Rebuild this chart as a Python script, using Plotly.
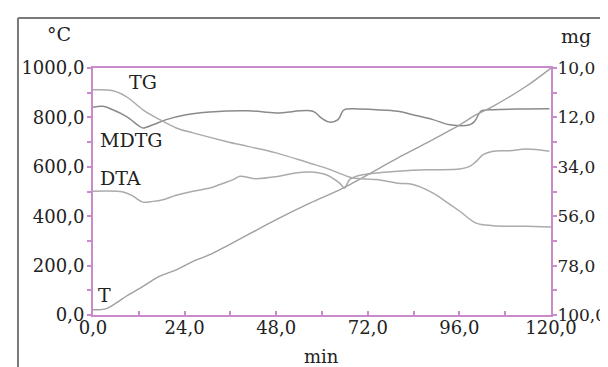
import plotly.graph_objects as go

# ---- data ----
t_T = [0, 3.5, 6.1, 8.7, 13.1, 17.5, 21.8, 26.2, 30.6, 34.9, 40.6, 48.0, 56.8, 65.5, 79.9, 87.3, 96.1, 100.4, 104.8, 113.5, 120]
v_T = [21, 26, 49, 76, 116, 157, 183, 217, 244, 278, 325, 386, 453, 514, 636, 696, 770, 811, 845, 926, 1000]

t_MDTG = [0, 2.6, 5.2, 8.7, 12.2, 13.1, 15.7, 19.2, 24.4, 30.6, 40.6, 48.0, 57.6, 59.8, 62.0, 64.2, 65.5, 66.4, 74.2, 79.9, 83.8, 89.1, 93.5, 98.7, 100.0, 101.7, 104.8, 113.5, 119.6]
v_MDTG = [841, 845, 831, 804, 764, 757, 770, 791, 811, 822, 827, 818, 825, 798, 781, 791, 827, 834, 831, 825, 811, 791, 770, 770, 784, 825, 831, 834, 835]

t_DTA = [0, 7.9, 10.5, 13.1, 15.7, 18.3, 21.8, 26.2, 30.6, 33.2, 36.7, 38.5, 42.4, 48.0, 53.0, 56.8, 61.1, 64.6, 65.9, 67.2, 69.0, 74.2, 79.9, 87.3, 96.1, 98.7, 100.4, 102.2, 104.8, 109.2, 113.5, 119.6]
v_DTA = [501, 498, 481, 457, 460, 467, 485, 501, 514, 528, 548, 562, 552, 560, 575, 579, 568, 534, 514, 548, 562, 575, 582, 588, 591, 602, 622, 649, 663, 665, 672, 663]

t_TG = [0, 5.2, 8.7, 13.1, 17.5, 21.8, 26.2, 34.9, 40.6, 48.0, 56.8, 61.1, 65.5, 68.1, 74.2, 79.9, 83.8, 89.1, 91.7, 96.1, 100.4, 104.8, 113.5, 120]
m_TG = [-0.3, 0.1, 2.7, 8.6, 13.0, 16.7, 18.9, 22.7, 24.9, 27.8, 32.4, 34.6, 37.5, 39.0, 39.7, 41.3, 41.9, 45.7, 48.6, 53.8, 59.1, 60.2, 60.5, 60.8]

x_ticks = [0, 24, 48, 72, 96, 120]
x_labels = ["0,0", "24,0", "48,0", "72,0", "96,0", "120,0"]
y_ticks = [0, 200, 400, 600, 800, 1000]
y_labels = ["0,0", "200,0", "400,0", "600,0", "800,0", "1000,0"]
y2_ticks = [-10, 12, 34, 56, 78, 100]
y2_labels = ["10,0", "12,0", "34,0", "56,0", "78,0", "100,0"]

AX = "#c98bcb"
TXT = "#222222"
FONT = "DejaVu Serif"

fig = go.Figure()
fig.add_trace(go.Scatter(x=t_TG, y=m_TG, mode="lines", yaxis="y2",
                         line=dict(color="#ababab", width=1.5), line_shape="spline"))
fig.add_trace(go.Scatter(x=t_DTA, y=v_DTA, mode="lines",
                         line=dict(color="#ababab", width=1.5), line_shape="spline"))
fig.add_trace(go.Scatter(x=t_MDTG, y=v_MDTG, mode="lines",
                         line=dict(color="#8a8a8a", width=1.5), line_shape="spline"))
fig.add_trace(go.Scatter(x=t_T, y=v_T, mode="lines",
                         line=dict(color="#a0a0a0", width=1.4), line_shape="spline"))

fig.update_layout(
    width=608, height=367,
    margin=dict(l=85, r=65, t=60, b=60),
    paper_bgcolor="white", plot_bgcolor="white",
    showlegend=False,
    font=dict(family=FONT, size=18, color=TXT),
    xaxis=dict(range=[0, 120], tickmode="array", tickvals=x_ticks, ticktext=x_labels,
               showgrid=False, zeroline=False, showline=True, linecolor=AX, linewidth=2,
               mirror=True, ticks="inside", ticklen=4, tickcolor=AX, tickwidth=1.5,
               minor=dict(tick0=0, dtick=12, ticks="inside", ticklen=4, tickcolor=AX, tickwidth=1.5),
               ticklabelstandoff=-5,
               automargin=False, tickfont=dict(family=FONT, size=18, color=TXT)),
    yaxis=dict(range=[0, 1000], tickmode="array", tickvals=y_ticks, ticktext=y_labels,
               showgrid=False, zeroline=False, showline=True, linecolor=AX, linewidth=2,
               ticks="outside", ticklen=4, tickcolor=AX, tickwidth=1.5,
               minor=dict(tick0=0, dtick=100, ticks="outside", ticklen=4, tickcolor=AX, tickwidth=1.5),
               ticklabelstandoff=-1,
               automargin=False, tickfont=dict(family=FONT, size=18, color=TXT)),
    yaxis2=dict(range=[100, -10], overlaying="y", side="right", anchor="x",
                tickmode="array", tickvals=y2_ticks, ticktext=y2_labels,
                showgrid=False, zeroline=False, showline=True, linecolor=AX, linewidth=2,
                ticks="outside", ticklen=4, tickcolor=AX, tickwidth=1.5,
                minor=dict(tick0=-10, dtick=11, ticks="outside", ticklen=4, tickcolor=AX, tickwidth=1.5),
                ticklabelstandoff=-3,
                automargin=False, tickfont=dict(family=FONT, size=17, color=TXT)),
)

# outer frame (top and left edges visible in the reference)
fig.add_shape(type="line", xref="paper", yref="paper", x0=-0.1638, x1=-0.1638, y0=-0.5, y1=1.2024,
              line=dict(color="#7a7a7a", width=2))
fig.add_shape(type="line", xref="paper", yref="paper", x0=-0.1638, x1=1.5, y0=1.2024, y1=1.2024,
              line=dict(color="#7a7a7a", width=2))

anns = [
    dict(text="°C", xref="paper", yref="paper", x=-0.075, y=1.1377),
    dict(text="mg", xref="paper", yref="paper", x=1.0546, y=1.1296),
    dict(text="min", xref="paper", yref="paper", x=0.498, y=-0.17, font_size=18),
    dict(text="TG", xref="x", yref="y", x=13.1, y=943),
    dict(text="MDTG", xref="x", yref="y", x=10.0, y=708),
    dict(text="DTA", xref="x", yref="y", x=7.1, y=555),
    dict(text="T", xref="x", yref="y", x=2.9, y=81),
]
for a in anns:
    fs = a.pop("font_size", 19)
    fig.add_annotation(showarrow=False, xanchor="center", yanchor="middle",
                       font=dict(family=FONT, size=fs, color=TXT), **a)

fig.write_html("out.html")
